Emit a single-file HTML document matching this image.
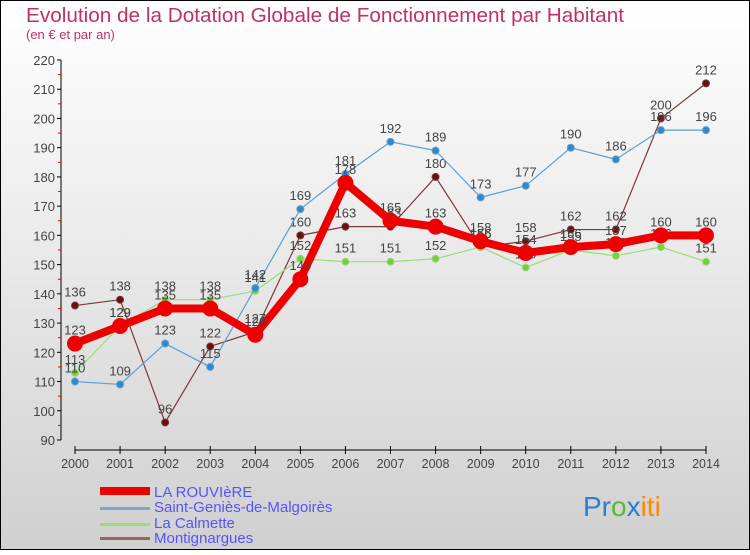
<!DOCTYPE html>
<html><head><meta charset="utf-8"><style>
html,body{margin:0;padding:0;}
body{width:750px;height:550px;overflow:hidden;font-family:"Liberation Sans",sans-serif;}
</style></head><body>
<svg id="c" width="750" height="550" xmlns="http://www.w3.org/2000/svg">
<defs><linearGradient id="bg" x1="0" y1="0" x2="0" y2="1"><stop offset="0" stop-color="#ffffff"/><stop offset="1" stop-color="#d0d0d0"/></linearGradient></defs>
<rect x="0.5" y="0.5" width="749" height="549" fill="url(#bg)" stroke="#000"/>
<text x="26" y="22" font-size="20.5" fill="#c0306a" textLength="598" lengthAdjust="spacingAndGlyphs">Evolution de la Dotation Globale de Fonctionnement par Habitant</text>
<text x="26" y="39" font-size="13" fill="#c0306a">(en € et par an)</text>
<g id="plot"></g>
<g font-size="15" fill="#5555ff">
<rect x="100" y="487" width="50" height="8" fill="#ee0000"/>
<text x="154" y="497">LA ROUVIèRE</text>
<rect x="100" y="507" width="50" height="3" fill="#7aa9cc"/>
<text x="154" y="512">Saint-Geniès-de-Malgoirès</text>
<rect x="100" y="523" width="50" height="3" fill="#99dd77"/>
<text x="154" y="528">La Calmette</text>
<rect x="100" y="537" width="50" height="3" fill="#996666"/>
<text x="154" y="543">Montignargues</text>
</g>
<text x="583" y="516" font-size="28"><tspan fill="#2a7fd4">Pr</tspan><tspan fill="#55bb33">o</tspan><tspan fill="#2a7fd4">x</tspan><tspan fill="#ff8800">iti</tspan></text>
</svg>
<script>
const years=["2000","2001","2002","2003","2004","2005","2006","2007","2008","2009","2010","2011","2012","2013","2014"];
const yTicks=[90,100,110,120,130,140,150,160,170,180,190,200,210,220];
const rouviere=[123,129,135,135,126,145,178,165,163,158,154,156,157,160,160];
const saintGenies=[110,109,123,115,142,169,181,192,189,173,177,190,186,196,196];
const calmette=[113,129,138,138,141,152,151,151,152,156,149,155,153,156,151];
const montignargues=[136,138,96,122,127,160,163,163,180,156,158,162,162,200,212];
const NS="http://www.w3.org/2000/svg";
const g=document.getElementById('plot');
const x=i=>75+i*(706-75)/(years.length-1);
const y=v=>440-(v-90)*(380/130);
function el(t,a,p){const e=document.createElementNS(NS,t);for(const k in a)e.setAttribute(k,a[k]);(p||g).appendChild(e);return e;}
let ax=el('line',{x1:61,y1:60,x2:61,y2:440,stroke:'#000'});


yTicks.forEach((v,i)=>{
 let t=el('line',{x1:57,y1:y(v),x2:61,y2:y(v),stroke:'#000'});
 
 
 if(i<yTicks.length-1){let m=el('line',{x1:58,y1:y(v+5),x2:61,y2:y(v+5),stroke:'#e00'});
 
 }
 let l=el('text',{x:55,y:y(v)+5,'text-anchor':'end','font-size':'13',fill:'#444'});
 
 
 l.textContent=v;
});
let xa=el('line',{x1:75,y1:450,x2:706,y2:450,stroke:'#000'});


years.forEach((yr,i)=>{
 let t=el('line',{x1:x(i),y1:446,x2:x(i),y2:454,stroke:'#000'});
 
 
 let l=el('text',{x:x(i),y:468,'text-anchor':'middle','font-size':'12.5',fill:'#444'});
 
 
 l.textContent=yr;
});
function series(name,data,color,lw,r,mc){
 const s=el('g',{});
 
 
 let p=el('polyline',{points:data.map((v,i)=>x(i)+','+y(v)).join(' '),fill:'none',stroke:color,'stroke-width':lw,'stroke-linejoin':'round'},s);
 
 
 data.forEach((v,i)=>{
  let c=el('circle',{cx:x(i),cy:y(v),r:r,fill:mc,stroke:color,'stroke-width':1},s);
  
  
  let l=el('text',{x:x(i),y:y(v)-9,'text-anchor':'middle','font-size':'13',fill:'#444'},s);
  
  
  l.textContent=v;
 });
}
series('montignargues',montignargues,'#7a3a3a',1.2,3.5,'#661111');
series('la-calmette',calmette,'#99dd77',1.2,3.5,'#77cc44');
series('saint-genies',saintGenies,'#5aa0d0',1.2,3.5,'#3388cc');
series('la-rouviere',rouviere,'#ee0000',8,7.5,'#ee0000');
</script>
</body></html>
